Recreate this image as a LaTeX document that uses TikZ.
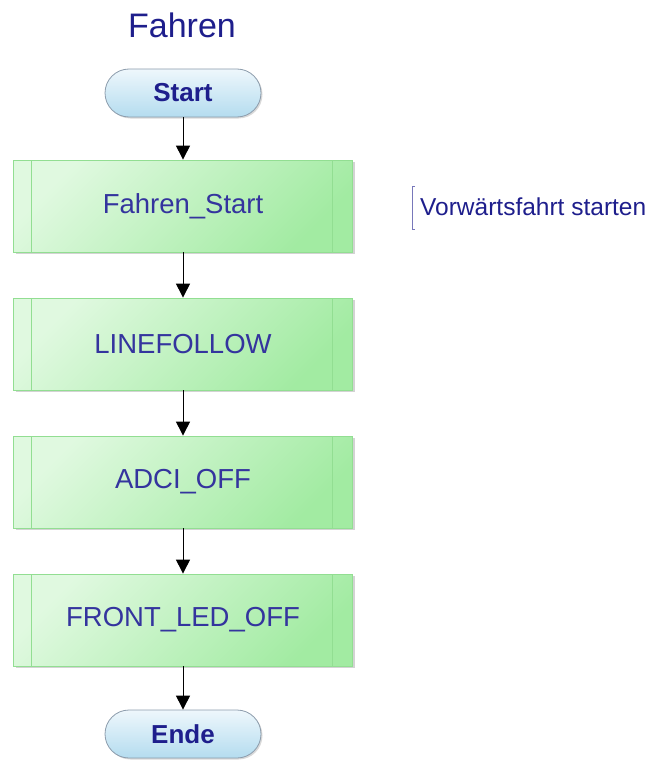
\documentclass[tikz,border=0pt]{standalone}
\usepackage{fontspec}
\setmainfont{Liberation Sans}
\usetikzlibrary{shapes,arrows.meta,positioning,shadows}

\definecolor{navytext}{HTML}{1E1E8C}
\definecolor{boxtext}{HTML}{34349E}
\definecolor{greenlight}{HTML}{E0F9E0}
\definecolor{greendark}{HTML}{A2EBA2}
\definecolor{greenline}{HTML}{92DE92}
\definecolor{bluelight}{HTML}{EEF7FC}
\definecolor{bluedark}{HTML}{B4DCEF}
\definecolor{blueline}{HTML}{8C9CAC}

\begin{document}
\begin{tikzpicture}[x=1pt,y=-1pt,
  terminal/.style={rectangle, rounded corners=24pt, draw=blueline, thick,
    top color=bluelight, bottom color=bluedark, minimum width=156pt, minimum height=48pt,
    font=\fontsize{26}{30}\selectfont\bfseries, text=navytext,
    drop shadow={shadow xshift=1.5pt, shadow yshift=-1.5pt, opacity=0.3}},
  procbox/.style={rectangle, draw=greenline, thick,
    top color=greenlight, bottom color=greendark, shading angle=45,
    minimum width=339pt, minimum height=92pt,
    font=\fontsize{27.5}{32}\selectfont, text=boxtext,
    drop shadow={shadow xshift=2pt, shadow yshift=-2pt, opacity=0.35},
    path picture={
      \draw[greenline, thick] ([xshift=18pt]path picture bounding box.north west) -- ([xshift=18pt]path picture bounding box.south west);
      \draw[greenline, thick] ([xshift=-20pt]path picture bounding box.north east) -- ([xshift=-20pt]path picture bounding box.south east);
    }},
  flow/.style={-{Triangle[width=14pt,length=14pt]}, line width=1pt, black}]
\useasboundingbox (0,0) rectangle (659,760);

% Title
\node[text=navytext, font=\fontsize{34}{40}\selectfont] (title) at (182,25) {Fahren};

% Flow
\node[terminal] (start) at (183,93) {Start};
\node[procbox] (fstart) at (183,206) {Fahren\_Start};
\node[procbox] (linefollow) at (183,344) {LINEFOLLOW};
\node[procbox] (adcioff) at (183,482) {ADCI\_OFF};
\node[procbox] (ledoff) at (183,620) {FRONT\_LED\_OFF};
\node[terminal] (ende) at (183,734) {Ende};

\draw[flow] (start) -- (fstart);
\draw[flow] (fstart) -- (linefollow);
\draw[flow] (linefollow) -- (adcioff);
\draw[flow] (adcioff) -- (ledoff);
\draw[flow] (ledoff) -- (ende);

% Comment
\node[anchor=west, text=navytext, font=\fontsize{24.5}{28}\selectfont, inner sep=0pt] (note) at (420,207) {Vorwärtsfahrt starten};
\draw[navytext!60, thin] ([xshift=-5pt,yshift=21pt]note.west) -- ++(-3,0) |- ([xshift=-5pt,yshift=-22pt]note.west);
\end{tikzpicture}
\end{document}
